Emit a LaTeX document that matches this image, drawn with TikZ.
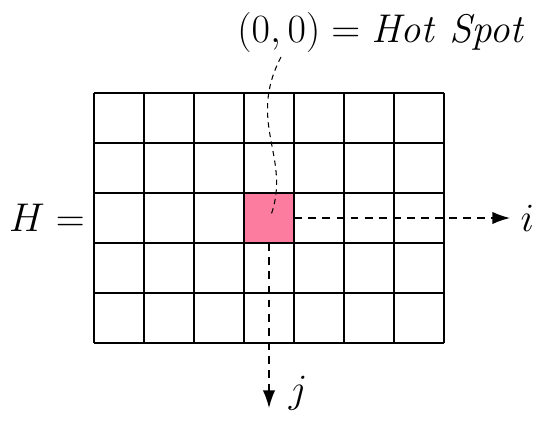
\documentclass[tikz,border=0pt]{standalone}
\usepackage{amsmath}
\usetikzlibrary{arrows.meta,positioning}
\definecolor{HotPink}{HTML}{FB7C9E}
\tikzset{bigtext/.style={font=\huge,scale=1.1}}

\begin{document}
\begin{tikzpicture}[>={Latex[length=10pt,width=7pt]}]
  \useasboundingbox (-1.88,1.86) rectangle (9.12,-6.54);
  % the hot spot cell and the grid
  \node[fill=HotPink,minimum size=1cm,inner sep=0pt] (hot) at (3.5,-2.5) {};
  \draw[line width=1pt] (0,0) grid (7,-5);
  \node[bigtext] (H) at (-0.94,-2.5) {$H =$};
  \node[bigtext] (lbl) at (5.76,1.22) {$(0,0) = \mathit{Hot\ Spot}$};
  \coordinate (iend) at (8.32,-2.5);
  \coordinate (jend) at (3.5,-6.3);
  \coordinate (cstart) at (3.74,0.72);
  \coordinate (cend) at (3.54,-2.44);
  \draw[dash pattern=on 4.5pt off 3.5pt,thick,->] (hot.east) -- (iend) node[bigtext,right=2pt]{$i$};
  \draw[dash pattern=on 4.5pt off 3.5pt,thick,->] (hot.south) -- (jend);
  \node[bigtext] (j) at (4.08,-6.0) {$j$};
  \draw[dash pattern=on 3pt off 2.5pt,semithick] (cstart) .. controls (3.05,-0.6) and (3.95,-1.3) .. (cend);
\end{tikzpicture}
\end{document}
